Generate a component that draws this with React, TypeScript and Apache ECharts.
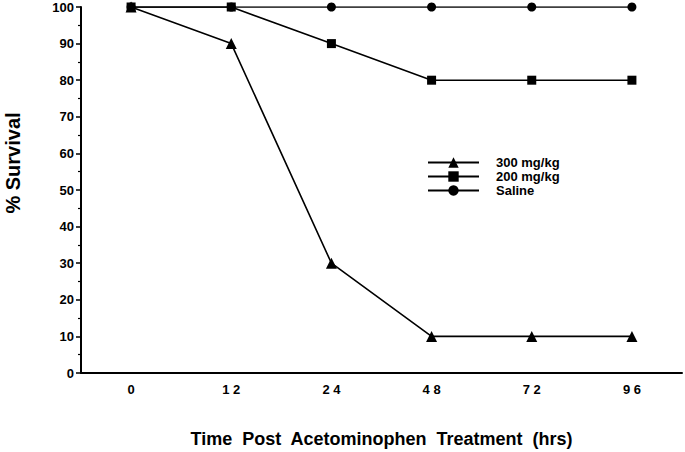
import React, { useEffect, useRef } from "react";
import * as echarts from "echarts";

const categories = ["0", "1 2", "2 4", "4 8", "7 2", "9 6"];
const dose300 = [100, 90, 30, 10, 10, 10];
const dose200 = [100, 100, 90, 80, 80, 80];
const saline = [100, 100, 100, 100, 100, 100];
const seriesNames = ["300 mg/kg", "200 mg/kg", "Saline"];
const yTitle = "% Survival";
const xTitle = "Time  Post  Acetominophen  Treatment  (hrs)";

const FONT = "Arial, 'Liberation Sans', Helvetica, sans-serif";

export default function App() {
  const ref = useRef<HTMLDivElement>(null);
  useEffect(() => {
    if (!ref.current) return;
    const chart = echarts.init(ref.current, null, { renderer: "svg" });
    const lineStyle = { color: "#000", width: 1.6 };
    chart.setOption({
      animation: false,
      backgroundColor: "#fff",
      textStyle: { fontFamily: FONT },
      grid: { left: 81, right: 3, top: 7, bottom: 79, outerBoundsMode: "none" },
      graphic: [
        {
          type: "text",
          x: 13,
          y: 163,
          rotation: Math.PI / 2,
          style: {
            text: yTitle,
            align: "center",
            verticalAlign: "middle",
            font: `bold 20px ${FONT}`,
            fill: "#000",
          },
        },
      ],
      legend: {
        orient: "vertical",
        left: 427,
        top: 156,
        padding: 0,
        itemWidth: 51,
        itemHeight: 13,
        itemGap: 1,
        data: seriesNames,
        textStyle: {
          fontFamily: FONT,
          fontWeight: "bold",
          fontSize: 13,
          lineHeight: 13,
          color: "#000",
          padding: [0, 0, 0, 12],
        },
      },
      xAxis: [
        {
          type: "category",
          data: categories,
          boundaryGap: true,
          name: xTitle,
          nameLocation: "middle",
          nameGap: 57,
          nameTextStyle: { fontFamily: FONT, fontWeight: "bold", fontSize: 18, color: "#000" },
          axisLine: { lineStyle: { color: "#000", width: 2 } },
          axisTick: { alignWithLabel: true, length: 5, lineStyle: { color: "#000", width: 1.5 } },
          axisLabel: { color: "#000", fontWeight: "bold", fontSize: 13, fontFamily: FONT, margin: 10 },
          splitLine: { show: false },
        },
        {
          type: "category",
          data: categories,
          boundaryGap: true,
          position: "bottom",
          axisLine: { show: false },
          axisTick: { inside: true, length: 3, lineStyle: { color: "#000", width: 1.5 } },
          axisLabel: { show: false },
          splitLine: { show: false },
        },
      ],
      yAxis: {
        type: "value",
        min: 0,
        max: 100,
        interval: 10,
        axisLine: { show: true, lineStyle: { color: "#000", width: 2 } },
        axisTick: { show: true, length: 5, lineStyle: { color: "#000", width: 1.5 } },
        minorTick: { show: true, splitNumber: 2, length: 3, lineStyle: { color: "#000", width: 1.2 } },
        axisLabel: { color: "#000", fontWeight: "bold", fontSize: 13, fontFamily: FONT, margin: 7 },
        splitLine: { show: false },
      },
      series: [
        {
          name: seriesNames[2],
          type: "line",
          data: saline,
          symbol: "circle",
          symbolSize: 9,
          itemStyle: { color: "#000" },
          lineStyle,
          z: 2,
        },
        {
          name: seriesNames[0],
          type: "line",
          data: dose300,
          symbol: "triangle",
          symbolSize: 11,
          itemStyle: { color: "#000" },
          lineStyle,
          z: 3,
        },
        {
          name: seriesNames[1],
          type: "line",
          data: dose200,
          symbol: "rect",
          symbolSize: 9,
          itemStyle: { color: "#000" },
          lineStyle,
          z: 4,
        },
      ],
    });
    return () => chart.dispose();
  }, []);
  return <div ref={ref} style={{ width: 685, height: 452, position: "absolute", left: 0, top: 0 }} />;
}
